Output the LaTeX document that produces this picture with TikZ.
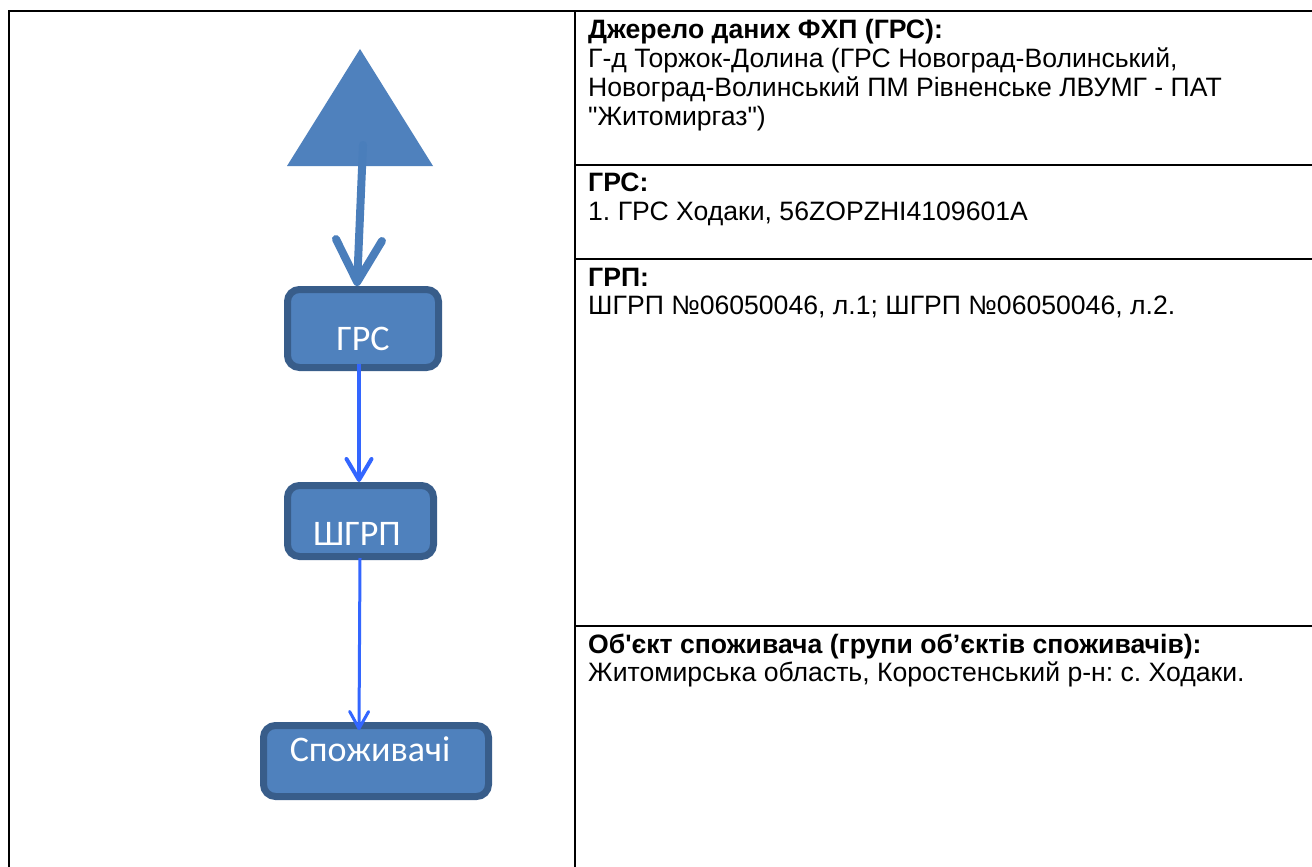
\documentclass[tikz,border=0pt]{standalone}
\usepackage{fontspec}
\newfontfamily\arial{Liberation Sans}
\newfontfamily\calib{Carlito}
\usetikzlibrary{arrows.meta}
\definecolor{boxfill}{HTML}{4F81BD}
\definecolor{boxline}{HTML}{385D8A}
\definecolor{arrblue}{HTML}{3366FF}
\definecolor{thickblue}{HTML}{4A7EBB}
\frenchspacing
\begin{document}
\begin{tikzpicture}[x=1pt,y=-1pt,
  flowbox/.style={draw=boxline, line width=7pt, fill=boxfill, rounded corners=12pt, inner sep=0pt},
  boxlabel/.style={text=white, font=\calib\fontsize{36}{40}\selectfont, anchor=base, inner sep=0pt},
  cell/.style={anchor=base west, inner sep=0pt, font=\arial\fontsize{26.6}{29}\selectfont},
  cellhead/.style={anchor=base west, inner sep=0pt, font=\arial\bfseries\fontsize{26.6}{29}\selectfont},
  rule/.style={line width=2pt, draw=black},
  thickarr/.style={draw=thickblue, line width=8pt, line cap=round, -{Straight Barb[length=42pt, width=46pt, round]}},
  thinarrA/.style={draw=arrblue, line width=4pt, -{Straight Barb[length=21pt, width=25pt, round]}},
  thinarrB/.style={draw=arrblue, line width=3pt, -{Straight Barb[length=17pt, width=19pt, round]}}
]
\useasboundingbox (0,0) rectangle (1312,867);
\fill[white] (0,0) rectangle (1312,867);

% table rules
\draw[rule] (8.5,867) -- (8.5,11) -- (1312,11);
\draw[rule] (575,11) -- (575,867);
\draw[rule] (575,165) -- (1312,165);
\draw[rule] (575,259) -- (1312,259);
\draw[rule] (575,626) -- (1312,626);

% right column text
\node[cellhead] (h1) at (588,38.7) {Джерело даних ФХП (ГРС):};
\node[cell] (t1a) at (588,67.5) {Г-д Торжок-Долина (ГРС Новоград-Волинський,};
\node[cell] (t1b) at (588,96.3) {Новоград-Волинський ПМ Рівненське ЛВУМГ - ПАТ};
\node[cell] (t1c) at (588,125.1) {"Житомиргаз")};
\node[cellhead] (h2) at (588,191.5) {ГРС:};
\node[cell] (t2a) at (588,220.3) {1. ГРС Ходаки, 56ZOPZHI4109601A};
\node[cellhead] (h3) at (588,286) {ГРП:};
\node[cell] (t3a) at (588,314.8) {ШГРП №06050046, л.1; ШГРП №06050046, л.2.};
\node[cellhead] (h4) at (588,653) {Об'єкт споживача (групи об’єктів споживачів):};
\node[cell] (t4a) at (588,681.8) {Житомирська область, Коростенський р-н: с. Ходаки.};

% source triangle
\fill[boxfill] (360,49) -- (433,166) -- (287,166) -- cycle;
\coordinate (src) at (363,145);

% boxes
\node[flowbox, minimum width=151pt, minimum height=78pt] (grs) at (363,328.5) {};
\node[boxlabel] (grsl) at (363,350) {ГРС};
\node[flowbox, minimum width=146pt, minimum height=71pt] (shgrp) at (360.5,521) {};
\node[boxlabel] (shgrpl) at (357,545) {ШГРП};
\node[flowbox, minimum width=225pt, minimum height=71pt] (spozh) at (376,761) {};
\node[boxlabel] (spozhl) at (370,761.5) {Споживачі};

% connectors
\draw[thickarr] (src) -- ([xshift=-6pt]grs.north);
\draw[thinarrA] ([xshift=-4pt,yshift=7pt]grs.south) -- ([xshift=-1.5pt]shgrp.north);
\draw[thinarrB] ([xshift=-0.5pt,yshift=2pt]shgrp.south) -- ([xshift=-17pt,yshift=-8pt]spozh.north);
\end{tikzpicture}
\end{document}
